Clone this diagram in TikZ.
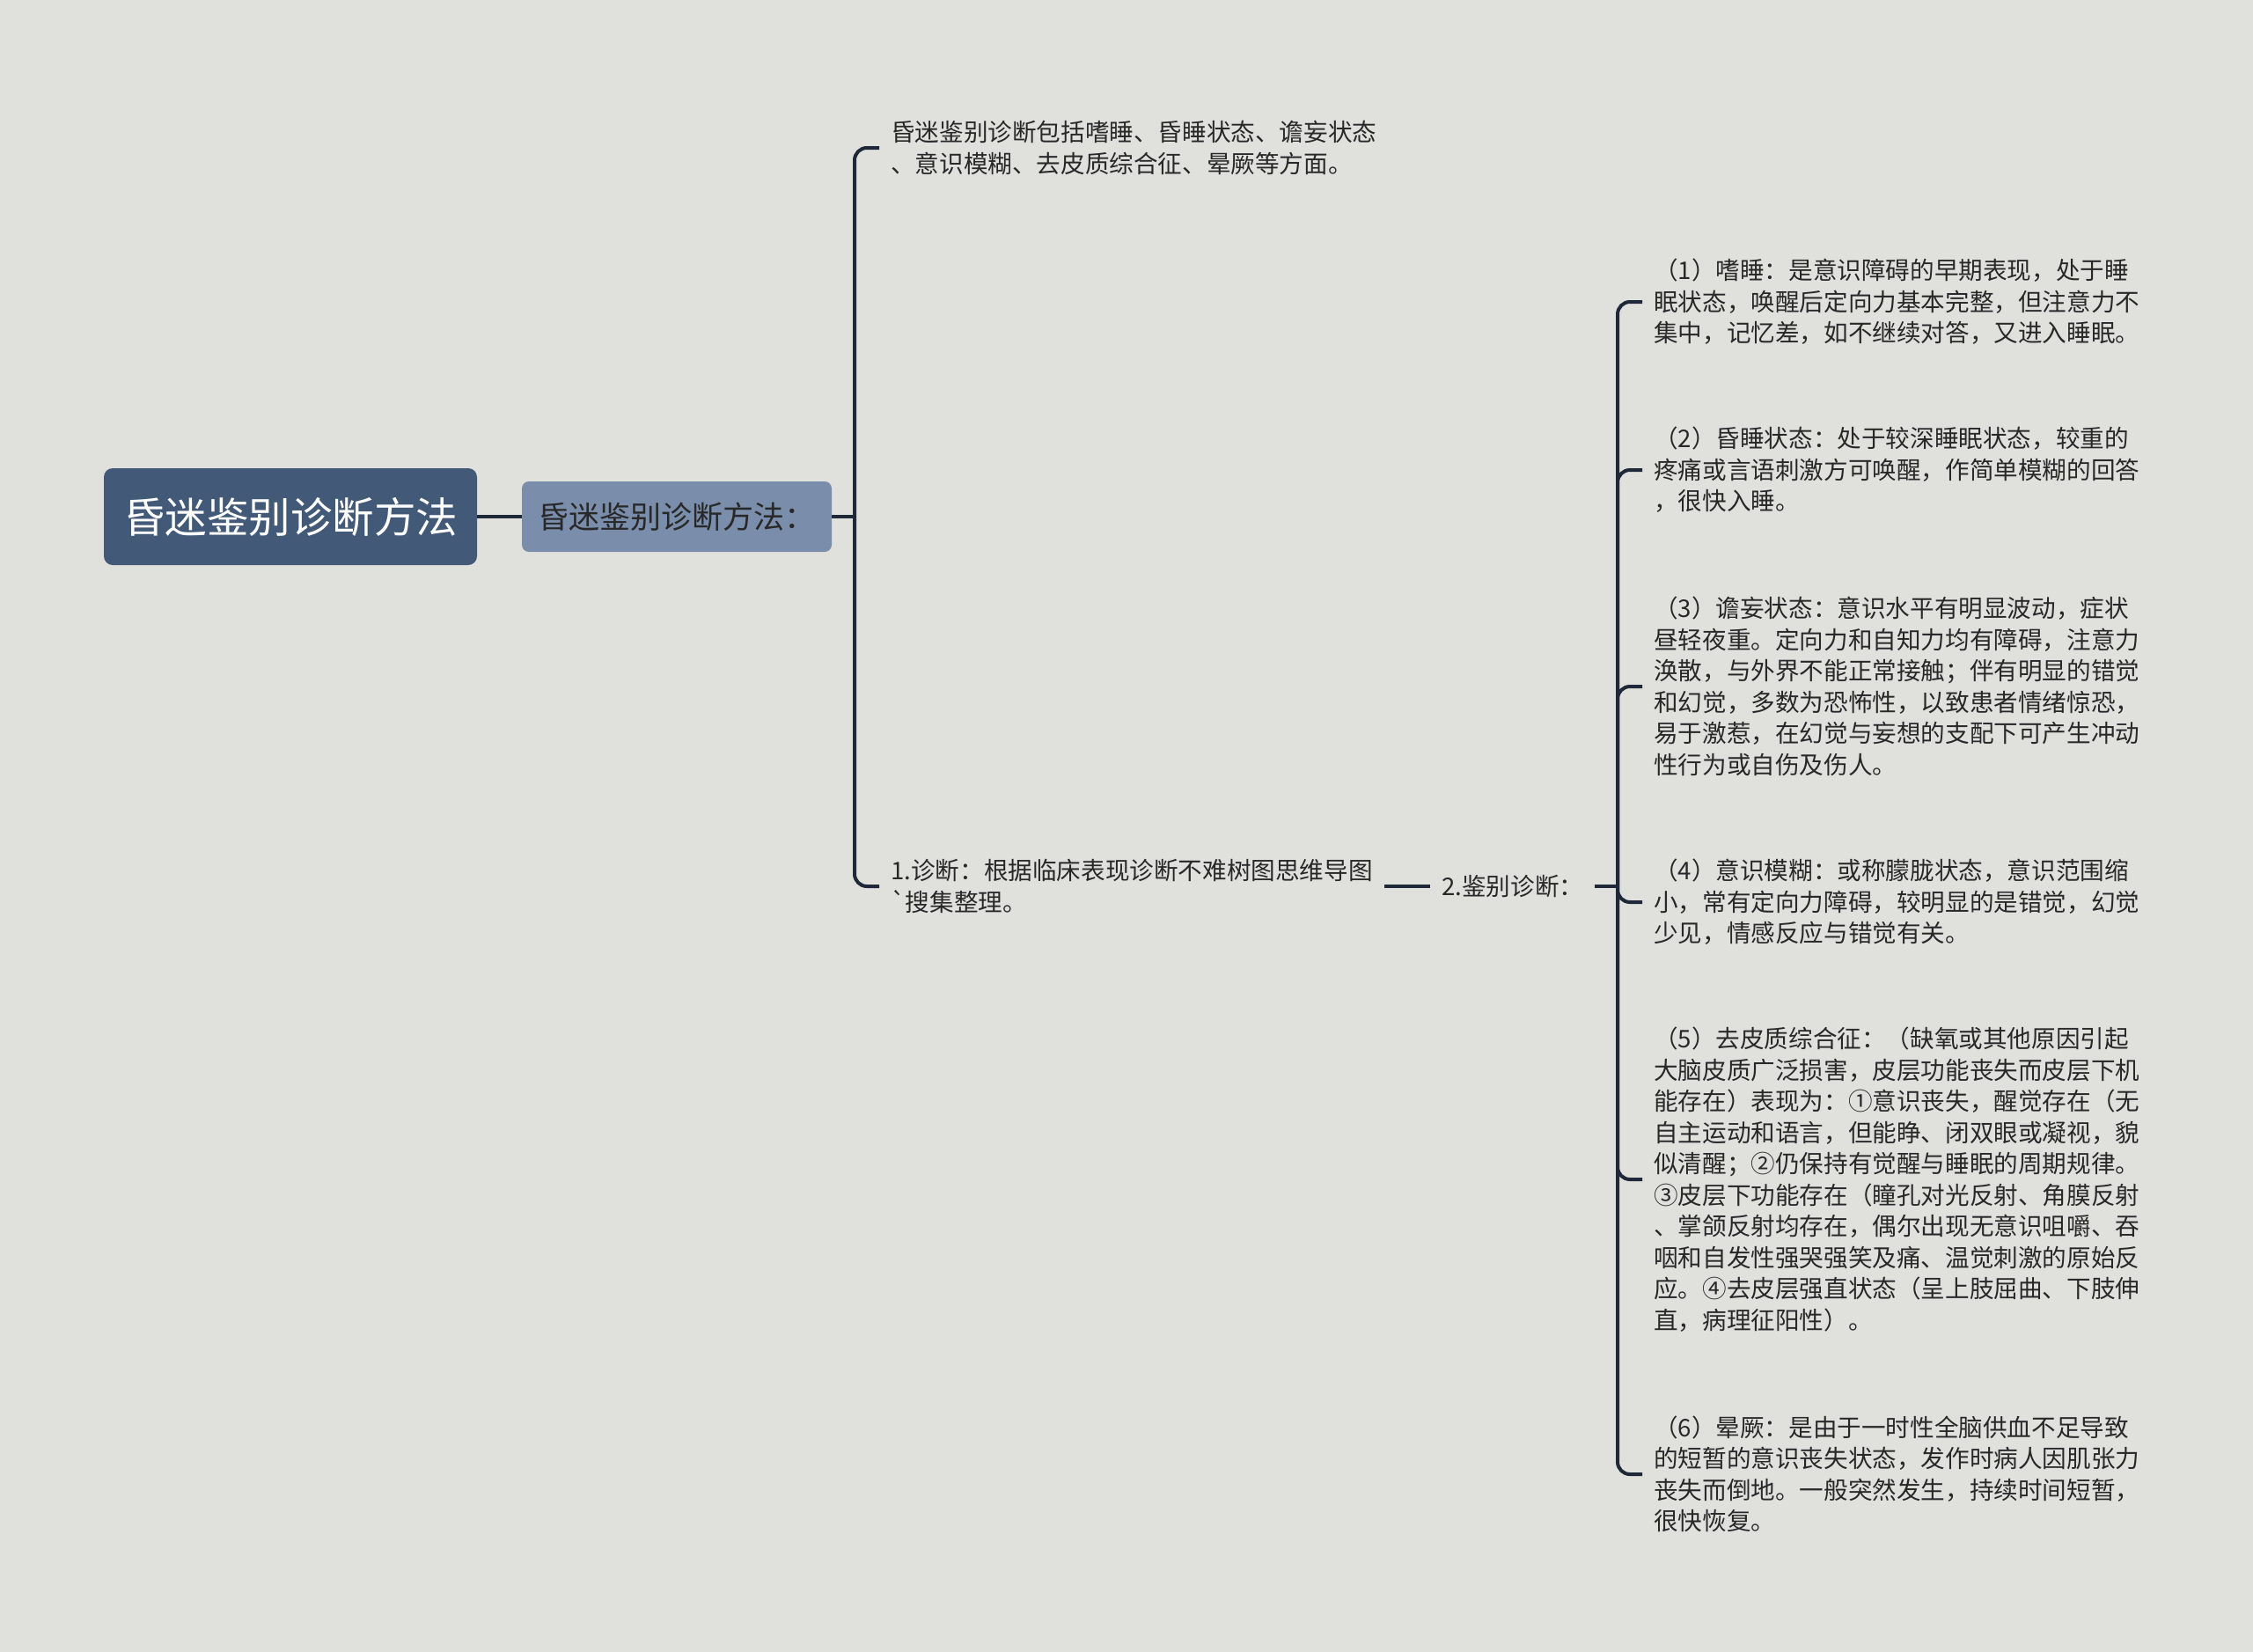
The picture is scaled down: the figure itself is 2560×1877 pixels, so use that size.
\documentclass[tikz,border=0pt]{standalone}
\usepackage{fontspec}
\newfontfamily\cjk{Noto Sans CJK SC}
\definecolor{bgcol}{RGB}{224,225,220}
\definecolor{rootcol}{RGB}{66,90,120}
\definecolor{subcol}{RGB}{122,142,172}
\definecolor{linecol}{RGB}{30,40,56}
\definecolor{txtcol}{RGB}{40,40,40}
\tikzset{
  rootbox/.style={fill=rootcol, rounded corners=10pt, text=white, minimum width=424pt, minimum height=110pt, font={\cjk\fontsize{47.5}{56}\selectfont}},
  subbox/.style={fill=subcol, rounded corners=8pt, text=txtcol, minimum width=352pt, minimum height=80pt, font={\cjk\fontsize{35}{40}\selectfont}},
  leaf/.style={anchor=west, align=left, text=txtcol, inner sep=13pt, font={\cjk\fontsize{27.6}{35.5}\selectfont}},
  link/.style={draw=linecol, line width=4pt, rounded corners=14pt}
}
\begin{document}
\begin{tikzpicture}[x=1pt,y=-1pt]
\useasboundingbox[fill=bgcol] (0,0) rectangle (2560,1877); % page
\node[rootbox] (root) at (330,587) {昏迷鉴别诊断方法}; % main topic
\node[subbox] (method) at (769,587) {昏迷鉴别诊断方法：}; % sub topic
\coordinate (fork1) at (971,587); % left bracket
\node[leaf] (scope) at (999,168) {昏迷鉴别诊断包括嗜睡、昏睡状态、谵妄状态\\、意识模糊、去皮质综合征、晕厥等方面。};
\node[leaf] (diag) at (999,1007) {1.诊断：根据临床表现诊断不难树图思维导图\\\textasciigrave 搜集整理。};
\node[leaf] (ident) at (1625,1007) {2.鉴别诊断：};
\coordinate (fork2) at (1838,1007); % right bracket
\node[leaf] (s1) at (1866,343) {（1）嗜睡：是意识障碍的早期表现，处于睡\\眠状态，唤醒后定向力基本完整，但注意力不\\集中，记忆差，如不继续对答，又进入睡眠。};
\node[leaf] (s2) at (1866,534) {（2）昏睡状态：处于较深睡眠状态，较重的\\疼痛或言语刺激方可唤醒，作简单模糊的回答\\，很快入睡。};
\node[leaf] (s3) at (1866,780) {（3）谵妄状态：意识水平有明显波动，症状\\昼轻夜重。定向力和自知力均有障碍，注意力\\涣散，与外界不能正常接触；伴有明显的错觉\\和幻觉，多数为恐怖性，以致患者情绪惊恐，\\易于激惹，在幻觉与妄想的支配下可产生冲动\\性行为或自伤及伤人。};
\node[leaf] (s4) at (1866,1025) {（4）意识模糊：或称朦胧状态，意识范围缩\\小，常有定向力障碍，较明显的是错觉，幻觉\\少见，情感反应与错觉有关。};
\node[leaf] (s5) at (1866,1340) {（5）去皮质综合征：（缺氧或其他原因引起\\大脑皮质广泛损害，皮层功能丧失而皮层下机\\能存在）表现为：①意识丧失，醒觉存在（无\\自主运动和语言，但能睁、闭双眼或凝视，貌\\似清醒；②仍保持有觉醒与睡眠的周期规律。\\③皮层下功能存在（瞳孔对光反射、角膜反射\\、掌颌反射均存在，偶尔出现无意识咀嚼、吞\\咽和自发性强哭强笑及痛、温觉刺激的原始反\\应。④去皮层强直状态（呈上肢屈曲、下肢伸\\直，病理征阳性）。};
\node[leaf] (s6) at (1866,1675) {（6）晕厥：是由于一时性全脑供血不足导致\\的短暂的意识丧失状态，发作时病人因肌张力\\丧失而倒地。一般突然发生，持续时间短暂，\\很快恢复。};
\draw[link] (root.east) -- (method.west); % main to sub
\draw[link] (method.east) -- (fork1);
\draw[link] (fork1) |- (scope.west);
\draw[link] (fork1) |- (diag.west);
\draw[link] (diag.east) -- (ident.west);
\draw[link] (ident.east) -- (fork2);
\foreach \s in {s1,s2,s3,s4,s5,s6}
  \draw[link] (fork2) |- (\s.west); % states
\end{tikzpicture}
\end{document}
